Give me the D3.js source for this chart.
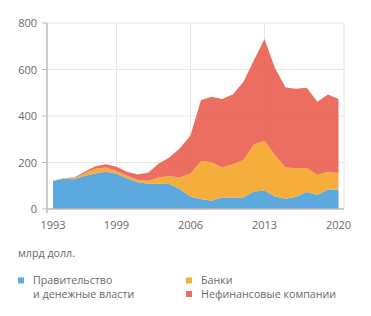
<!DOCTYPE html>
<html>
<head>
<meta charset="utf-8">
<script src="https://cdn.jsdelivr.net/npm/d3@7"></script>
<style>
    body { margin: 0; background: #fff; }
    svg text { font-family: "Open Sans", sans-serif; fill: #6a6a6a; }
</style>
</head>
<body>
<svg id="chart"></svg>
<script>

// data (bn USD)
const years = d3.range(1993, 2021);
const government = [120, 130, 128, 143, 153, 160, 152, 132, 115, 109, 109, 107, 86, 53,
    43, 36, 49, 49, 49, 75, 80, 54, 44, 53, 73, 60, 85, 82];
const banks = [3, 2, 5, 10, 20, 18, 11, 11, 10, 13, 26, 35, 49, 100,
    163, 165, 129, 144, 162, 202, 214, 177, 134, 122, 103, 86, 75, 73];
const nonFinancial = [0, 0, 3, 7, 11, 15, 19, 17, 23, 34, 61, 80, 126, 163,
    263, 282, 295, 300, 335, 363, 437, 374, 345, 342, 346, 315, 332, 318];

const seriesKeys = ['government', 'banks', 'nonFinancial'];
const seriesLabels = [['Правительство', 'и денежные власти'], ['Банки'], ['Нефинансовые компании']];
const xTicks = [1993, 1999, 2006, 2013, 2020];
const yTicks = [0, 200, 400, 600, 800];
const unitLabel = 'млрд долл.';

class stackedArea {

    constructor(_config) {
        this.config = {
            parentElement: _config.parentElement,
            containerWidth: 371,
            containerHeight: 316,
            colors: ['#4aa0dc', '#f4a427', '#ea5e4f']
        }
        // table for d3.stack built from the arrays above
        this.data = years.map((y, i) => ({
            year: y,
            government: government[i],
            banks: banks[i],
            nonFinancial: nonFinancial[i]
        }));
        this.initVis();
    }

    initVis() {
        let vis = this;

        vis.svg = d3.select(vis.config.parentElement)
            .attr('width', vis.config.containerWidth)
            .attr('height', vis.config.containerHeight);

        // plot frame
        const left = 47, right = 344, top = 23, bottom = 209;

        const xScale = d3.scaleLinear()
            .domain([1993, 2020])
            .range([53, 338.5]);

        const yScale = d3.scaleLinear()
            .domain([0, 800])
            .range([bottom, top]);

        // horizontal grid
        vis.svg.append('g')
            .selectAll('line')
            .data(yTicks.filter(d => d > 0))
            .enter()
            .append('line')
            .attr('x1', left).attr('x2', right)
            .attr('y1', d => yScale(d)).attr('y2', d => yScale(d))
            .attr('stroke', '#e6e6e6')
            .attr('stroke-width', 1);

        // vertical grid (inner ticks + right border)
        vis.svg.append('g')
            .selectAll('line')
            .data([1999, 2006, 2013])
            .enter()
            .append('line')
            .attr('x1', d => xScale(d)).attr('x2', d => xScale(d))
            .attr('y1', top).attr('y2', bottom)
            .attr('stroke', '#e6e6e6')
            .attr('stroke-width', 1);

        vis.svg.append('line')
            .attr('x1', right).attr('x2', right)
            .attr('y1', top).attr('y2', bottom)
            .attr('stroke', '#e6e6e6');

        const stack = d3.stack().keys(seriesKeys);
        const layers = stack(vis.data);

        const area = d3.area()
            .x(d => xScale(d.data.year))
            .y0(d => yScale(d[0]))
            .y1(d => yScale(d[1]));

        vis.svg.append('g')
            .selectAll('path')
            .data(layers)
            .enter()
            .append('path')
            .attr('d', area)
            .attr('fill', (d, i) => vis.config.colors[i])
            .attr('fill-opacity', 0.9);

        // axes lines
        vis.svg.append('line')
            .attr('x1', left).attr('x2', right)
            .attr('y1', bottom).attr('y2', bottom)
            .attr('stroke', '#bdbdbd').attr('stroke-width', 1.5);

        vis.svg.append('line')
            .attr('x1', left).attr('x2', left)
            .attr('y1', top).attr('y2', bottom + 4)
            .attr('stroke', '#bdbdbd').attr('stroke-width', 1.5);

        // y ticks and labels
        const yAxis = vis.svg.append('g');
        yAxis.selectAll('line')
            .data(yTicks)
            .enter()
            .append('line')
            .attr('x1', left - 5).attr('x2', left)
            .attr('y1', d => yScale(d)).attr('y2', d => yScale(d))
            .attr('stroke', '#bdbdbd');
        yAxis.selectAll('text')
            .data(yTicks)
            .enter()
            .append('text')
            .attr('x', 37)
            .attr('y', d => yScale(d) + 4)
            .attr('text-anchor', 'end')
            .style('font-size', '11px')
            .text(d => d);

        // x labels
        vis.svg.append('g')
            .selectAll('text')
            .data(xTicks)
            .enter()
            .append('text')
            .attr('x', d => xScale(d))
            .attr('y', 228.5)
            .attr('text-anchor', 'middle')
            .style('font-size', '11px')
            .text(d => d);

        vis.svg.append('text')
            .attr('x', 18)
            .attr('y', 257)
            .style('font-size', '10.7px')
            .text(unitLabel);

        // legend
        const legendPos = [[18, 284], [186, 284], [186, 297.5]];
        const legend = vis.svg.append('g')
            .selectAll('g')
            .data(seriesKeys)
            .enter()
            .append('g')
            .attr('transform', (d, i) => `translate(${legendPos[i][0]}, ${legendPos[i][1]})`);

        legend.append('rect')
            .attr('x', 0).attr('y', -6.5)
            .attr('width', 6).attr('height', 6)
            .attr('fill', (d, i) => vis.config.colors[i])
            .attr('fill-opacity', 0.9);

        legend.append('text')
            .attr('x', 15)
            .style('font-size', '10.7px')
            .selectAll('tspan')
            .data((d, i) => seriesLabels[i])
            .enter()
            .append('tspan')
            .attr('x', 15)
            .attr('dy', (d, j) => j === 0 ? 0 : 13.5)
            .text(d => d);
    }
};

new stackedArea({ parentElement: '#chart' });

</script>
</body>
</html>
